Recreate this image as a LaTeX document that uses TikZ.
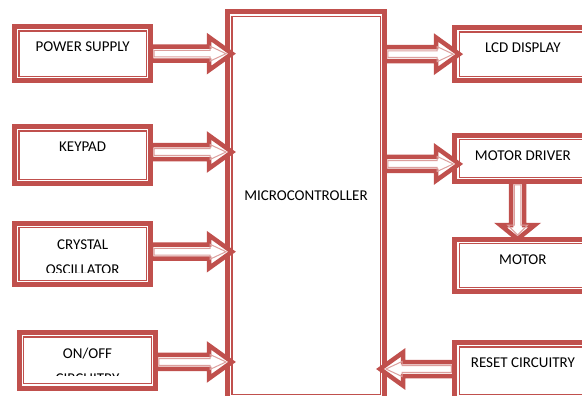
\documentclass[tikz,border=0pt]{standalone}
\usepackage{fontspec}
\setmainfont{Carlito}
\usetikzlibrary{calc}

\definecolor{boxred}{HTML}{C0504D}

\tikzset{
  box/.style={draw=boxred, line width=5pt, minimum width=136.3pt, inner ysep=0pt,
    text height=25.2pt, text depth=#1, font=\fontsize{15}{25}\selectfont,
    path picture={\draw[boxred, line width=1.2pt]
      ([shift={(4.4pt,-4.4pt)}]path picture bounding box.north west) rectangle
      ([shift={(-4.4pt,4.4pt)}]path picture bounding box.south east);}},
  lbl/.style={inner sep=0pt, align=center, font=\fontsize{15}{25}\selectfont},
  % shaft half width, head half width, head length, tip pull back, start push
  arrow body/.style n args={5}{to path={
    ($(\tikztostart)!#5!(\tikztotarget)$) coordinate (ab-s)
    ($(\tikztotarget)!#4!(\tikztostart)$) coordinate (ab-t)
    ($(ab-t)!#3!(ab-s)$) coordinate (ab-b)
    ($(ab-s)!#1!90:(ab-t)$) -- ($(ab-b)!#1!90:(ab-t)$) -- ($(ab-b)!#2!90:(ab-t)$)
    -- (ab-t) -- ($(ab-b)!#2!-90:(ab-t)$) -- ($(ab-b)!#1!-90:(ab-t)$)
    -- ($(ab-s)!#1!-90:(ab-t)$) -- cycle}},
  arr/.style={arrow body={7pt}{16.5pt}{23pt}{-7pt}{-2.25pt}, draw=boxred, line width=4.5pt, fill=white},
  arr in/.style={arrow body={3.3pt}{7.5pt}{16pt}{-1pt}{0.75pt}, draw=boxred!55, line width=1pt},
  varr/.style={arrow body={6.5pt}{17.25pt}{14pt}{-2.3pt}{-2.25pt}, draw=boxred, line width=4.5pt, fill=white},
  varr in/.style={arrow body={3.3pt}{10pt}{10pt}{1.7pt}{0.75pt}, draw=boxred!55, line width=1pt}
}

\begin{document}
\begin{tikzpicture}[x=1pt, y=-1pt]
	\useasboundingbox (0,0) rectangle (582,397);
	\clip (0,0) rectangle (582,395.6);

	% inputs
	\node[box=29.1pt] (ps) at (82.65,53.65) {POWER SUPPLY};
	\node[box=31.8pt] (kp) at (82.65,155) {KEYPAD};
	\node[box=36.4pt] (cry) at (82.65,254) {};
	\node[box=30.5pt] (onoff) at (87.5,360.35) {};

	\node[box=198.2pt, minimum width=157pt, text height=188.5pt] (mc) at (306,205.15) {MICROCONTROLLER};

	% outputs
	\node[box=28.1pt] (lcd) at (522.85,54.15) {LCD DISPLAY};
	\node[box=21.1pt] (md) at (522.85,158.35) {MOTOR DRIVER};
	\node[box=27.4pt] (mot) at (522.85,265.5) {MOTOR};
	\node[box=30.8pt] (rst) at (522.85,370.5) {RESET CIRCUITRY};

	% texts cut by their boxes
	\begin{scope}
		\clip (cry.north west) rectangle ($(cry.north east)+(0,52)$);
		\node[lbl, anchor=north] (cry-t) at ($(cry.north)+(0,18.6)$) {CRYSTAL\\OSCILLATOR};
	\end{scope}
	\begin{scope}
		\clip (onoff.north west) rectangle ($(onoff.north east)+(0,45)$);
		\node[lbl, anchor=north] (onoff-t) at ($(onoff.north)+(0,18.3)$) {ON/OFF\\CIRCUITRY};
	\end{scope}

	% block arrows
	\path (ps.east) edge[arr] (mc.west |- ps.east) edge[arr in] (mc.west |- ps.east);
	\path ([yshift=3pt]kp.east) edge[arr] ([yshift=3pt]mc.west |- kp.east) edge[arr in] ([yshift=3pt]mc.west |- kp.east);
	\path ([yshift=2.3pt]cry.east) edge[arr] ([yshift=2.3pt]mc.west |- cry.east) edge[arr in] ([yshift=2.3pt]mc.west |- cry.east);
	\path ([yshift=-1.6pt]onoff.east) edge[arr] ([yshift=-1.6pt]mc.west |- onoff.east) edge[arr in] ([yshift=-1.6pt]mc.west |- onoff.east);

	\path (mc.east |- lcd.west) edge[arr] (lcd.west) edge[arr in] (lcd.west);
	\path ([yshift=-5.6pt]mc.east |- md.west) edge[arr] ([yshift=-5.6pt]md.west) edge[arr in] ([yshift=-5.6pt]md.west);
	\path ([yshift=1.5pt]rst.west) edge[arr] ([yshift=1.5pt]mc.east |- rst.west) edge[arr in] ([yshift=1.5pt]mc.east |- rst.west);

	\path ([xshift=-5.3pt]md.south) edge[varr] ([xshift=-5.3pt]mot.north) edge[varr in] ([xshift=-5.3pt]mot.north);
\end{tikzpicture}
\end{document}
